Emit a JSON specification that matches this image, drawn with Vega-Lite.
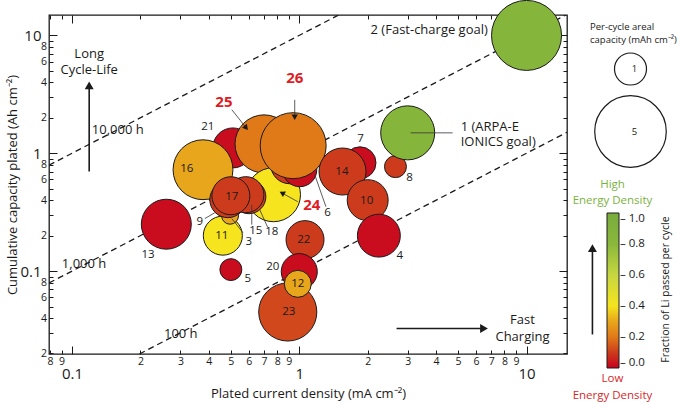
{
  "$schema": "https://vega.github.io/schema/vega-lite/v6.json",
  "width": 518,
  "height": 339,
  "autosize": {"type": "none"},
  "padding": {"left": 49, "top": 15, "right": 110, "bottom": 50},
  "config": {
    "font": "Open Sans",
    "view": {"stroke": "#1a1a1a", "strokeWidth": 1.3},
    "axis": {"labelColor": "#1a1a1a", "titleColor": "#1a1a1a", "tickColor": "#1a1a1a"},
    "legend": {"labelColor": "#1a1a1a", "titleColor": "#1a1a1a"}
  },
  "datasets": {
    "bubbles": [
      {"id": "21", "x": 0.51, "y": 1.11, "cap": 1.56, "frac": 0.02},
      {"id": "16", "x": 0.377, "y": 0.725, "cap": 3.5, "frac": 0.3},
      {"id": "25", "x": 0.70, "y": 1.2, "cap": 3.3, "frac": 0.2},
      {"id": "24", "x": 0.77, "y": 0.445, "cap": 2.85, "frac": 0.4},
      {"id": "19", "x": 0.908, "y": 0.799, "cap": 1.41, "frac": 0.1},
      {"id": "6", "x": 1.005, "y": 0.725, "cap": 1.13, "frac": 0.02},
      {"id": "26", "x": 0.94, "y": 1.16, "cap": 4.25, "frac": 0.2},
      {"id": "13", "x": 0.26, "y": 0.25, "cap": 2.44, "frac": 0.02},
      {"id": "11", "x": 0.461, "y": 0.20, "cap": 1.49, "frac": 0.4},
      {"id": "3", "x": 0.496, "y": 0.295, "cap": 0.28, "frac": 0.3},
      {"id": "9", "x": 0.485, "y": 0.404, "cap": 1.27, "frac": 0.1},
      {"id": "18", "x": 0.60, "y": 0.428, "cap": 1.13, "frac": 0.1},
      {"id": "15", "x": 0.582, "y": 0.445, "cap": 1.27, "frac": 0.1},
      {"id": "17", "x": 0.50, "y": 0.436, "cap": 1.41, "frac": 0.1},
      {"id": "5", "x": 0.50, "y": 0.103, "cap": 0.47, "frac": 0.02},
      {"id": "22", "x": 1.06, "y": 0.185, "cap": 1.41, "frac": 0.1},
      {"id": "23", "x": 0.89, "y": 0.045, "cap": 3.3, "frac": 0.12},
      {"id": "20", "x": 1.0, "y": 0.099, "cap": 1.27, "frac": 0.02},
      {"id": "12", "x": 0.985, "y": 0.078, "cap": 0.71, "frac": 0.3},
      {"id": "7", "x": 1.85, "y": 0.83, "cap": 1.0, "frac": 0.02},
      {"id": "14", "x": 1.55, "y": 0.70, "cap": 2.16, "frac": 0.1},
      {"id": "10", "x": 2.0, "y": 0.40, "cap": 1.64, "frac": 0.1},
      {"id": "8", "x": 2.65, "y": 0.77, "cap": 0.47, "frac": 0.1},
      {"id": "4", "x": 2.24, "y": 0.20, "cap": 1.8, "frac": 0.02},
      {"id": "1", "x": 3.0, "y": 1.49, "cap": 2.85, "frac": 0.85},
      {"id": "2", "x": 10, "y": 10, "cap": 4.79, "frac": 0.85}
    ],
    "lines": [
      {"h": "10000", "x": 0.0792, "y": 0.792},
      {"h": "10000", "x": 1.49, "y": 14.9},
      {"h": "1000", "x": 0.0792, "y": 0.0792},
      {"h": "1000", "x": 14.9, "y": 14.9},
      {"h": "100", "x": 0.198, "y": 0.0198},
      {"h": "100", "x": 15.07, "y": 1.507}
    ],
    "numbers": [
      {"t": "16", "x": 0.32, "y": 0.739},
      {"t": "17", "x": 0.505, "y": 0.428},
      {"t": "11", "x": 0.456, "y": 0.20},
      {"t": "14", "x": 1.54, "y": 0.697},
      {"t": "10", "x": 1.98, "y": 0.396},
      {"t": "22", "x": 1.047, "y": 0.185},
      {"t": "12", "x": 0.985, "y": 0.078},
      {"t": "23", "x": 0.899, "y": 0.0454},
      {"t": "21", "x": 0.396, "y": 1.68},
      {"t": "9", "x": 0.365, "y": 0.263},
      {"t": "15", "x": 0.644, "y": 0.22},
      {"t": "18", "x": 0.757, "y": 0.216},
      {"t": "3", "x": 0.60, "y": 0.178},
      {"t": "13", "x": 0.216, "y": 0.138},
      {"t": "5", "x": 0.594, "y": 0.085},
      {"t": "20", "x": 0.765, "y": 0.109},
      {"t": "6", "x": 1.33, "y": 0.313},
      {"t": "7", "x": 1.86, "y": 1.33},
      {"t": "8", "x": 3.06, "y": 0.62},
      {"t": "4", "x": 2.77, "y": 0.135}
    ],
    "red": [
      {"t": "25", "x": 0.466, "y": 2.73},
      {"t": "26", "x": 0.955, "y": 4.36},
      {"t": "24", "x": 1.135, "y": 0.366}
    ],
    "notes": [
      {"t": "Long\nCycle-Life", "x": 0.119, "y": 6.97},
      {"t": "Fast\nCharging", "x": 9.6, "y": 0.0381},
      {"t": "10,000 h", "x": 0.159, "y": 1.58},
      {"t": "1,000 h", "x": 0.113, "y": 0.116},
      {"t": "100 h", "x": 0.301, "y": 0.0295},
      {"t": "2 (Fast-charge goal)", "x": 3.73, "y": 11.1}
    ],
    "notesLeft": [
      {"t": "1 (ARPA-E\nIONICS goal)", "x": 5.13, "y": 1.68}
    ],
    "leaders": [
      {"x": 3.09, "y": 1.49, "x2": 4.73, "y2": 1.49},
      {"x": 1.31, "y": 0.352, "x2": 1.17, "y2": 0.657},
      {"x": 0.384, "y": 0.279, "x2": 0.425, "y2": 0.313},
      {"x": 0.618, "y": 0.248, "x2": 0.618, "y2": 0.366},
      {"x": 0.727, "y": 0.234, "x2": 0.67, "y2": 0.332},
      {"x": 0.565, "y": 0.212, "x2": 0.505, "y2": 0.279},
      {"x": 0.505, "y": 2.34, "x2": 0.584, "y2": 1.645},
      {"x": 0.955, "y": 2.84, "x2": 0.955, "y2": 2.02},
      {"x": 0.985, "y": 0.388, "x2": 0.84, "y2": 0.46}
    ],
    "arrows": [
      {"x": 0.119, "y": 0.70, "x2": 0.119, "y2": 3.77},
      {"x": 2.68, "y": 0.0326, "x2": 6.5, "y2": 0.0326},
      {"x": 19.5, "y": 0.029, "x2": 19.5, "y2": 0.157}
    ],
    "smallHeads": [
      {"x": 0.584, "y": 1.645, "a": 141},
      {"x": 0.955, "y": 2.02, "a": 180},
      {"x": 0.84, "y": 0.46, "a": 299}
    ],
    "bigHeads": [
      {"x": 0.119, "y": 3.77, "a": 0},
      {"x": 6.5, "y": 0.0326, "a": 90},
      {"x": 19.5, "y": 0.157, "a": 0}
    ],
    "high": [{"t": "High\nEnergy Density", "x": 23.9, "y": 0.541}],
    "low": [{"t": "Low\nEnergy Density", "x": 23.9, "y": 0.01204}],
    "fracTitle": [{"t": "Fraction of Li passed per cycle", "x": 41.2, "y": 0.0697}]
  },
  "encoding": {
    "x": {"field": "x", "type": "quantitative", "scale": {"type": "log", "domain": [0.0792, 15.07]}, "axis": null},
    "y": {"field": "y", "type": "quantitative", "scale": {"type": "log", "domain": [0.0198, 14.9]}, "axis": null}
  },
  "layer": [
    {
      "data": {"name": "lines"},
      "mark": {"type": "line", "strokeDash": [6, 4], "strokeWidth": 1.3, "color": "#1a1a1a", "clip": true},
      "encoding": {
        "detail": {"field": "h"},
        "x": {"field": "x", "type": "quantitative", "scale": {"type": "log", "domain": [0.0792, 15.07]},
          "axis": {"orient": "top", "labels": false, "title": null, "domain": false, "grid": false,
            "values": [0.08,0.09,0.1,0.2,0.3,0.4,0.5,0.6,0.7,0.8,0.9,1,2,3,4,5,6,7,8,9,10],
            "tickSize": {"condition": {"test": "datum.value==0.1||datum.value==1||datum.value==10", "value": -8}, "value": -4},
            "tickWidth": 1}},
        "y": {"field": "y", "type": "quantitative", "scale": {"type": "log", "domain": [0.0198, 14.9]},
          "axis": {"orient": "right", "labels": false, "title": null, "domain": false, "grid": false,
            "values": [0.02,0.03,0.04,0.05,0.06,0.07,0.08,0.09,0.1,0.2,0.3,0.4,0.5,0.6,0.7,0.8,0.9,1,2,3,4,5,6,7,8,9,10],
            "tickSize": {"condition": {"test": "datum.value==0.1||datum.value==1||datum.value==10", "value": -8}, "value": -4},
            "tickWidth": 1}}
      }
    },
    {
      "data": {"name": "bubbles"},
      "mark": {"type": "circle", "opacity": 1, "stroke": "#1a1a1a", "strokeWidth": 1},
      "encoding": {
        "x": {"field": "x", "type": "quantitative", "scale": {"type": "log", "domain": [0.0792, 15.07]},
          "axis": {"orient": "bottom", "grid": false, "domain": false,
            "values": [0.08,0.09,0.1,0.2,0.3,0.4,0.5,0.6,0.7,0.8,0.9,1,2,3,4,5,6,7,8,9,10],
            "format": "~g",
            "labelExpr": "(datum.value==0.1||datum.value==1||datum.value==10) ? datum.label : ('' + round(datum.value / pow(10, floor(log(datum.value)/LN10 + 1e-6))))",
            "labelFontSize": {"condition": {"test": "datum.value==0.1||datum.value==1||datum.value==10", "value": 15}, "value": 10.5},
            "tickSize": {"condition": {"test": "datum.value==0.1||datum.value==1||datum.value==10", "value": -8}, "value": -4},
            "labelPadding": {"condition": {"test": "datum.value==0.1||datum.value==1||datum.value==10", "value": 20}, "value": 6},
            "labelOverlap": false, "labelFlush": false, "labelBound": false, "tickWidth": 1,
            "title": "Plated current density (mA cm⁻²)", "titleFontSize": 13, "titleFontWeight": "normal", "titlePadding": 6}},
        "y": {"field": "y", "type": "quantitative", "scale": {"type": "log", "domain": [0.0198, 14.9]},
          "axis": {"orient": "left", "grid": false, "domain": false,
            "values": [0.02,0.03,0.04,0.05,0.06,0.07,0.08,0.09,0.1,0.2,0.3,0.4,0.5,0.6,0.7,0.8,0.9,1,2,3,4,5,6,7,8,9,10],
            "format": "~g",
            "labelExpr": "(datum.value==0.1||datum.value==1||datum.value==10) ? datum.label : (indexof([2,4,6,8], round(datum.value / pow(10, floor(log(datum.value)/LN10 + 1e-6)))) >= 0 ? '' + round(datum.value / pow(10, floor(log(datum.value)/LN10 + 1e-6))) : '')",
            "labelFontSize": {"condition": {"test": "datum.value==0.1||datum.value==1||datum.value==10", "value": 15}, "value": 10.5},
            "tickSize": {"condition": {"test": "datum.value==0.1||datum.value==1||datum.value==10", "value": -8}, "value": -4},
            "labelPadding": {"condition": {"test": "datum.value==0.1||datum.value==1||datum.value==10", "value": 16}, "value": 6.5},
            "labelOverlap": false, "labelFlush": false, "labelBound": false, "tickWidth": 1,
            "title": "Cumulative capacity plated (Ah cm⁻²)", "titleFontSize": 13, "titleFontWeight": "normal", "titlePadding": 0}},
        "size": {"field": "cap", "type": "quantitative",
          "scale": {"type": "linear", "domain": [0, 10], "range": [0, 10240]},
          "legend": {"orient": "none", "legendX": 541, "legendY": 7, "values": [1, 5], "padding": 0,
            "title": ["Per-cycle areal", "capacity (mAh cm⁻²)"], "titleFontSize": 9.5, "titleFontWeight": "normal", "titleLineHeight": 12.5, "titlePadding": 8,
            "symbolType": "circle", "symbolFillColor": "white", "symbolStrokeColor": "#1a1a1a", "symbolStrokeWidth": 1.2, "symbolOpacity": 1, "symbolOffset": 4,
            "labelOffset": -32.5, "labelAlign": "center", "labelFontSize": 9.5, "rowPadding": 5,
            "encode": {"symbols": {"update": {"fill": {"value": "white"}, "stroke": {"value": "#1a1a1a"}, "opacity": {"value": 1}}}}}},
        "color": {"field": "frac", "type": "quantitative",
          "scale": {"type": "linear", "domain": [0, 0.1, 0.2, 0.3, 0.4, 0.6, 0.8, 1],
            "range": ["#c8001e", "#cc3c1c", "#e07a18", "#e8a61c", "#f5e41e", "#c6d640", "#8ab83c", "#78ac3c"], "interpolate": "rgb"},
          "legend": {"orient": "none", "legendX": 558, "legendY": 198, "direction": "vertical", "title": null, "padding": 0,
            "gradientLength": 155, "gradientThickness": 12, "gradientStrokeColor": "#1a1a1a", "gradientStrokeWidth": 1,
            "values": [0, 0.2, 0.4, 0.6, 0.8, 1], "format": ".1f", "labelExpr": "'– ' + datum.label",
            "labelFontSize": 11.5, "labelOffset": 1}}
      }
    },
    {
      "data": {"name": "leaders"},
      "mark": {"type": "rule", "strokeWidth": 0.8, "color": "#333333"},
      "encoding": {"x2": {"field": "x2"}, "y2": {"field": "y2"}}
    },
    {
      "data": {"name": "numbers"},
      "mark": {"type": "text", "fontSize": 11.5, "color": "#1a1a1a", "align": "center", "baseline": "middle"},
      "encoding": {"text": {"field": "t"}}
    },
    {
      "data": {"name": "red"},
      "mark": {"type": "text", "fontSize": 15, "fontWeight": "bold", "color": "#dd1c24", "align": "center", "baseline": "middle"},
      "encoding": {"text": {"field": "t"}}
    },
    {
      "data": {"name": "notes"},
      "mark": {"type": "text", "fontSize": 13, "color": "#1a1a1a", "align": "center", "baseline": "middle", "lineBreak": "\n", "lineHeight": 16.5},
      "encoding": {"text": {"field": "t"}}
    },
    {
      "data": {"name": "notesLeft"},
      "mark": {"type": "text", "fontSize": 13, "color": "#1a1a1a", "align": "left", "baseline": "middle", "lineBreak": "\n", "lineHeight": 15.5},
      "encoding": {"text": {"field": "t"}}
    },
    {
      "data": {"name": "arrows"},
      "mark": {"type": "rule", "strokeWidth": 1.6, "color": "#1a1a1a"},
      "encoding": {"x2": {"field": "x2"}, "y2": {"field": "y2"}}
    },
    {
      "data": {"name": "smallHeads"},
      "mark": {"type": "point", "shape": "triangle-up", "filled": true, "size": 40, "color": "#1a1a1a", "opacity": 1},
      "encoding": {"angle": {"field": "a", "type": "quantitative", "scale": null}}
    },
    {
      "data": {"name": "bigHeads"},
      "mark": {"type": "point", "shape": "triangle-up", "filled": true, "size": 80, "color": "#1a1a1a", "opacity": 1},
      "encoding": {"angle": {"field": "a", "type": "quantitative", "scale": null}}
    },
    {
      "data": {"name": "high"},
      "mark": {"type": "text", "fontSize": 11.5, "color": "#7ab23e", "align": "center", "baseline": "middle", "lineBreak": "\n", "lineHeight": 16},
      "encoding": {"text": {"field": "t"}}
    },
    {
      "data": {"name": "low"},
      "mark": {"type": "text", "fontSize": 11.5, "color": "#d42a2a", "align": "center", "baseline": "middle", "lineBreak": "\n", "lineHeight": 17},
      "encoding": {"text": {"field": "t"}}
    },
    {
      "data": {"name": "fracTitle"},
      "mark": {"type": "text", "fontSize": 10.5, "color": "#1a1a1a", "align": "center", "baseline": "middle", "angle": 270},
      "encoding": {"text": {"field": "t"}}
    }
  ],
  "resolve": {"axis": {"x": "independent", "y": "independent"}}
}
